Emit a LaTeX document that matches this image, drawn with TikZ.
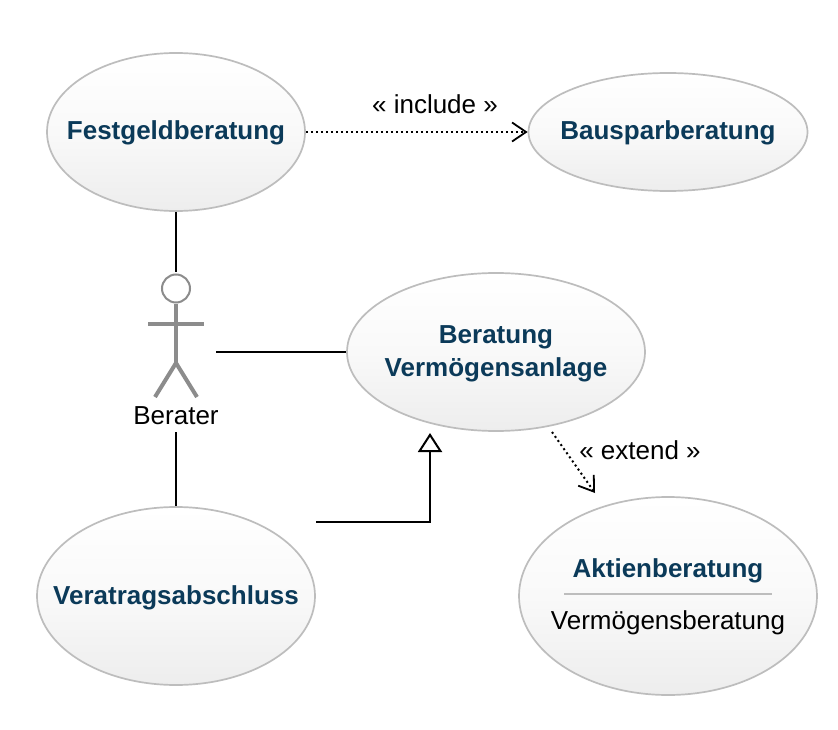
\documentclass[tikz,border=0pt]{standalone}
\usepackage{fontspec}
\setmainfont{Liberation Sans}
\usetikzlibrary{shapes.geometric,arrows.meta}
\definecolor{uctext}{HTML}{0B3A59}
\definecolor{ucedge}{HTML}{BDBDBD}
\definecolor{actorgrey}{HTML}{8C8C8C}
\definecolor{ucmid}{HTML}{F9F9F9}
\definecolor{ucbot}{HTML}{EDEDED}
\newcommand{\uctxt}[2]{\clap{\raisebox{#1}[0pt][0pt]{#2}}}
\begin{document}
\begin{tikzpicture}[x=1pt,y=-1pt,
  usecase/.style={ellipse,draw=ucedge,line width=1.7pt,top color=white,bottom color=ucbot,middle color=ucmid,
    inner sep=0pt,font=\fontsize{26}{33}\selectfont\bfseries,text=uctext},
  conn/.style={draw=black,line width=2pt},
  dep/.style={draw=black,line width=2pt,dash pattern=on 2pt off 3pt,
    -{Straight Barb[length=14pt,width=19pt,line width=1.8pt]}},
  limb/.style={draw=actorgrey,line width=4pt},
  lbl/.style={inner sep=0pt,font=\fontsize{26}{30}\selectfont,text=black}]
\useasboundingbox (0,0) rectangle (838,730);
\fill[white] (0,0) rectangle (838,730);
\node[usecase,minimum width=258pt,minimum height=158pt] (festgeld) at (176,132) {\uctxt{-8pt}{Festgeldberatung}};
\node[usecase,minimum width=279pt,minimum height=118pt] (bauspar) at (668,132) {\uctxt{-8pt}{Bausparberatung}};
\node[usecase,minimum width=298pt,minimum height=158pt] (beratung) at (496,352) {\uctxt{-24pt}{\begin{tabular}[b]{@{}c@{}}Beratung\\Vermögensanlage\end{tabular}}};
\node[usecase,minimum width=278pt,minimum height=178pt] (vertrag) at (176,596) {\uctxt{-8pt}{Veratragsabschluss}};
\node[usecase,minimum width=298pt,minimum height=198pt] (aktien) at (668,596) {};
\node[lbl,font=\fontsize{26}{30}\selectfont\bfseries,text=uctext] (aktientitle) at (668,571) {Aktienberatung};
\node[lbl] (aktiensub) at (668,623) {Vermögensberatung};
\coordinate (divl) at (564,594);
\coordinate (divr) at (772,594);
\draw[draw=ucedge,line width=1.7pt] (divl) -- (divr);
% actor
\node[minimum width=80pt,minimum height=160pt,inner sep=0pt] (actor) at (176,352) {};
\node[circle,draw=actorgrey,fill=white,line width=2pt,minimum size=28pt,inner sep=0pt] (head) at (176,288.5) {};
\coordinate (hip) at (176,363);
\coordinate (arml) at (148,324);
\coordinate (armr) at (204,324);
\coordinate (legl) at (155,397);
\coordinate (legr) at (197,397);
\draw[limb] (head) -- (hip);
\draw[limb] (arml) -- (armr);
\draw[limb,line join=miter] (legl) -- (hip) -- (legr);
\node[lbl] (berater) at (176,416) {Berater};
% connectors
\draw[conn] (festgeld.south) -- (actor.north);
\draw[conn] (actor.east) -- (beratung.west);
\draw[conn] (actor.south) -- (vertrag.north);
\coordinate (genstart) at (316,522);
\coordinate (genelbow) at (430,522);
\coordinate (genend) at (430,433);
\draw[conn,line join=miter,-{Triangle[open,fill=white,length=19pt,width=24pt,line width=2pt]}] (genstart) -- (genelbow) -- (genend);
\draw[dep] (festgeld.east) -- (bauspar.west);
\coordinate (extstart) at (552,432);
\coordinate (extend) at (595,493);
\draw[dep] (extstart) -- (extend);
\node[lbl] (inc) at (435,104) {« include »};
\node[lbl] (ext) at (640,450) {« extend »};
\end{tikzpicture}
\end{document}
